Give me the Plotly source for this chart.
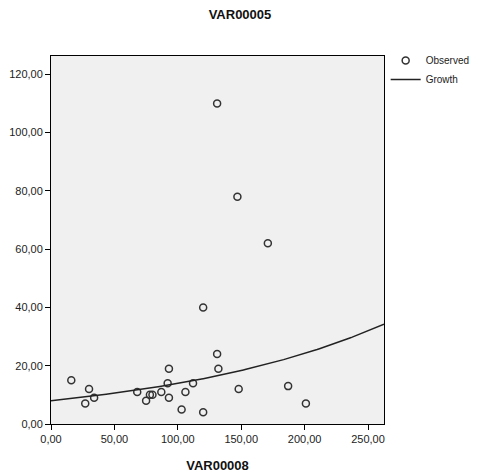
import numpy as np
import plotly.graph_objects as go

# Observed data (VAR00008 on x, VAR00005 on y)
var00008 = [16, 30, 27, 34, 68, 75, 78, 80, 87, 93, 92, 93, 103, 106, 112, 120,
            132, 148, 187, 201, 131, 131, 147, 171, 120]
var00005 = [15, 12, 7, 9, 11, 8, 10, 10, 11, 19, 14, 9, 5, 11, 14, 4,
            19, 12, 13, 7, 24, 110, 78, 62, 40]

# Growth model coefficients: ln(y) = b0 + b1*x
growth_b0 = np.log(8.0)
growth_b1 = 0.00554

x_ticks = [0, 50, 100, 150, 200, 250]
x_tick_labels = ["0,00", "50,00", "100,00", "150,00", "200,00", "250,00"]
y_ticks = [0, 20, 40, 60, 80, 100, 120]
y_tick_labels = ["0,00", "20,00", "40,00", "60,00", "80,00", "100,00", "120,00"]

x_max = 262.6
y_max = 126.3

xs = np.linspace(0, x_max, 200)
ys = np.exp(growth_b0 + growth_b1 * xs)

fig = go.Figure()
fig.add_trace(go.Scatter(
    x=var00008, y=var00005, mode="markers", name="Observed",
    marker=dict(symbol="circle-open", size=7, color="#333333",
                line=dict(width=1.5, color="#333333")),
))
fig.add_trace(go.Scatter(
    x=xs, y=ys, mode="lines", name="Growth",
    line=dict(color="#222222", width=1.5),
))

font_family = "Liberation Sans, Arial, sans-serif"
# page body has an 8px margin, so the figure is sized 472x466
fig.update_layout(
    width=472, height=466,
    margin=dict(l=43, r=96, t=48, b=50, autoexpand=False),
    paper_bgcolor="white",
    plot_bgcolor="#F0F0F0",
    font=dict(family=font_family, size=11, color="#222222"),
    title=dict(text="VAR00005", x=0.4915, xanchor="center", y=0.986, yanchor="middle",
               font=dict(size=13, weight="bold", color="#111111")),
    showlegend=True,
    legend=dict(x=1.005, y=1.027, xanchor="left", yanchor="top",
                font=dict(size=10, color="#222222"),
                bgcolor="rgba(0,0,0,0)", tracegroupgap=0,
                itemwidth=30),
)
fig.update_xaxes(
    range=[0, x_max], tickvals=x_ticks, ticktext=x_tick_labels,
    showgrid=False, zeroline=False, automargin=False,
    showline=True, linecolor="black", linewidth=1, mirror=True,
    ticks="outside", ticklen=5, tickcolor="black",
    title=dict(text="VAR00008", font=dict(size=13, weight="bold", color="#111111"), standoff=16),
)
fig.update_yaxes(
    range=[0, y_max], tickvals=y_ticks, ticktext=y_tick_labels,
    showgrid=False, zeroline=False, automargin=False,
    showline=True, linecolor="black", linewidth=1, mirror=True,
    ticks="outside", ticklen=5, tickcolor="black",
)

fig.write_html("out.html")
